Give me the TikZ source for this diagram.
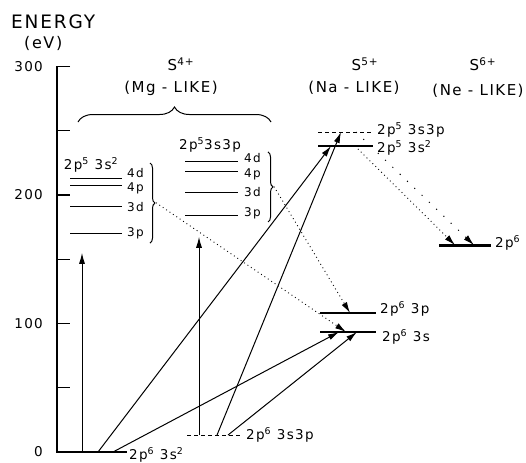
\documentclass[tikz,border=0pt]{standalone}
\usepackage{fontspec}
\setmainfont[LetterSpace=10]{DejaVu Sans}
\usetikzlibrary{arrows.meta,decorations.pathreplacing}
\newcommand{\sx}[1]{\textsuperscript{#1}}

\begin{document}
\begin{tikzpicture}[x=1pt, y=1.285pt,
  level/.style={line width=1pt},
  thicklevel/.style={line width=2.8pt},
  virt/.style={line width=1pt, dash pattern=on 4pt off 3pt},
  arrow/.style={-{Latex[length=11pt,width=6pt]}, line width=1pt},
  dotarrow/.style={-{Latex[length=11pt,width=6pt]}, line width=0.9pt, dash pattern=on 0.9pt off 3.2pt},
  loosearrow/.style={-{Latex[length=11pt,width=6pt]}, line width=1pt, dash pattern=on 1.1pt off 9pt},
  lab/.style={font=\fontsize{13.5}{15}\selectfont, anchor=west, inner sep=0pt},
  sub/.style={font=\fontsize{12}{14}\selectfont, anchor=west, inner sep=0pt},
  head/.style={font=\fontsize{15}{17}\selectfont, inner sep=0pt},
  axisnum/.style={font=\fontsize{13.5}{15}\selectfont, anchor=east, inner sep=0pt},
  brace/.style={decorate, decoration={brace, amplitude=#1}, line width=1pt}
]
\useasboundingbox (0,-7.78) rectangle (526,351.75);

\node[font=\fontsize{18.5}{20}\selectfont, anchor=west, inner sep=0pt] (energy) at (11,334.6) {ENERGY};
\node[font=\fontsize{16}{18}\selectfont, anchor=west, inner sep=0pt] (ev) at (24,318) {(eV)};

\draw[level, line width=1.2pt] (70,300) -- (57,300) -- (57,0) -- (72,0);
\foreach \e in {50,100,...,250} {
  \draw[level, line width=1.2pt] (57,\e) -- (70,\e);
}
\foreach \e in {0,100,200,300} {
  \node[axisnum] (e\e) at (43,\e) {\e};
}

\node[head] (s4) at (181,302) {S\sx{4+}};
\node[head] (mg) at (171,283.3) {(Mg - LIKE)};
\node[head] (s5) at (365,302) {S\sx{5+}};
\node[head] (na) at (354,283.3) {(Na - LIKE)};
\node[head] (s6) at (483,302) {S\sx{6+}};
\node[head] (ne) at (478,281) {(Ne - LIKE)};
\draw[brace=15pt] (78,256.8) -- (271,256.8);

\node[lab, anchor=center] (cfgL) at (91,223.3) {2p\sx{5} 3s\sx{2}};
\foreach \e in {213.2,207.4,191.4,170.4} {
  \draw[level] (70,\e) -- (122,\e);
}
\foreach \e/\t in {217/4d,205.4/4p,190.7/3d,170.4/3p} {
  \node[sub] (L\t) at (127,\e) {\t};
}
\draw[brace=5pt] (150,224.9) -- (150,162.6);
\coordinate (lbr) at (156,194);

\node[lab, anchor=center] (cfgM) at (210,238.9) {2p\sx{5}3s3p};
\foreach \e in {226.1,217.9,202.3,183.7} {
  \draw[level] (185,\e) -- (238,\e);
}
\foreach \e/\t in {228.8/4d,216.3/4p,202.3/3d,186/3p} {
  \node[sub] (M\t) at (244,\e) {\t};
}
\draw[brace=5pt] (268,233.5) -- (268,179);
\coordinate (mbr) at (274,206.5);

\draw[thicklevel] (72,0) -- (127,0);
\node[lab] (gnd) at (129,-2.3) {2p\sx{6} 3s\sx{2}};
\draw[virt] (187,13.2) -- (242,13.2);
\node[lab] (exc) at (246,13.2) {2p\sx{6} 3s3p};

\draw[thicklevel] (320,93.4) -- (376,93.4);
\draw[level, line width=1.6pt] (320,108.2) -- (376,108.2);
\node[lab] (na3p) at (380,111.3) {2p\sx{6} 3p};
\node[lab] (na3s) at (382,89.5) {2p\sx{6} 3s};
\draw[virt] (318,249) -- (372,249);
\draw[thicklevel] (318,238.1) -- (373,238.1);
\node[lab] (nauv) at (377,250.6) {2p\sx{5} 3s3p};
\node[lab] (nacore) at (377,236.6) {2p\sx{5} 3s\sx{2}};

\draw[thicklevel] (439,161) -- (491,161);
\node[lab] (ne6) at (495,162.6) {2p\sx{6}};

\coordinate (g1) at (82,0);
\coordinate (g1t) at (82,155);
\coordinate (g2) at (98,0);
\coordinate (t2) at (331,238.1);
\coordinate (g3) at (113,0);
\coordinate (t3) at (339,93.4);
\coordinate (v1) at (199,13.2);
\coordinate (v1t) at (199,167.5);
\coordinate (v2) at (217,13.2);
\coordinate (t5) at (341,249);
\coordinate (v3) at (228,13.2);
\coordinate (t6) at (357,93.4);
\coordinate (t7) at (346,93.4);
\coordinate (t8) at (350,108.2);
\coordinate (a9) at (355,238.1);
\coordinate (t9) at (455,161);
\coordinate (a10) at (356,249);
\coordinate (t10) at (474,161);

\draw[arrow] (g1) -- (g1t);
\draw[arrow] (g2) -- (t2);
\draw[arrow] (g3) -- (t3);
\draw[arrow] (v1) -- (v1t);
\draw[arrow] (v2) -- (t5);
\draw[arrow] (v3) -- (t6);
\draw[dotarrow] (lbr) -- (t7);
\draw[dotarrow] (mbr) -- (t8);
\draw[dotarrow] (a9) -- (t9);
\draw[loosearrow] (a10) -- (t10);
\end{tikzpicture}
\end{document}
